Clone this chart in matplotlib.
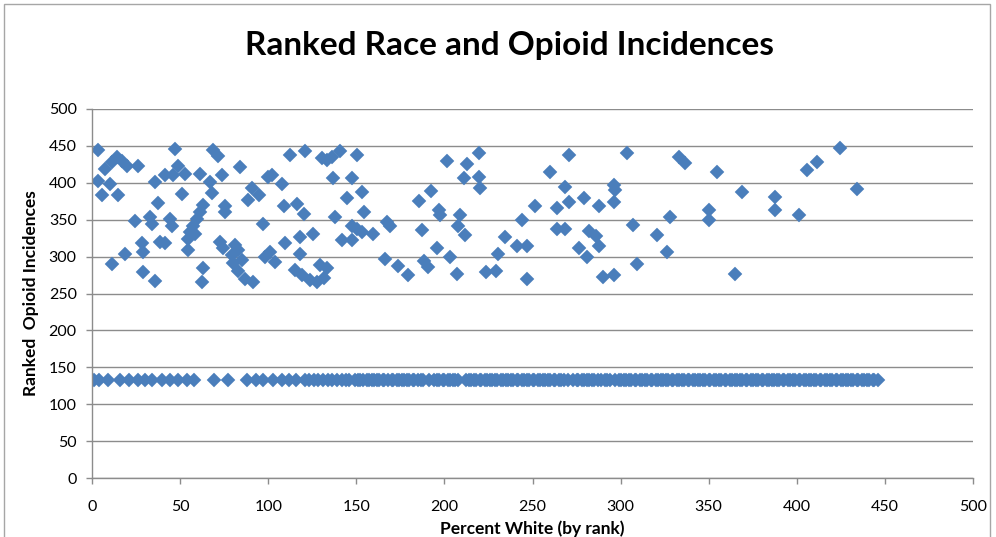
import numpy as np
import matplotlib
matplotlib.use("Agg")
import matplotlib.pyplot as plt
from matplotlib.patches import Rectangle

# ---- data ----
upper_x = [3.6, 47.1, 68.9, 71.5, 14.0, 16.8, 19.7, 11.2, 7.4, 26.3, 84.0, 49.0,
           41.5, 46.2, 52.8, 61.3, 73.6, 35.8, 67.0, 3.6, 10.2, 5.5, 14.9, 50.9,
           67.9, 90.7, 95.0, 88.8, 37.7, 63.2, 61.3, 75.5, 75.5, 24.4, 32.9, 33.9,
           44.3, 45.2, 59.4, 57.5, 55.7, 96.8, 28.2, 38.6, 41.5, 54.7, 58.5, 72.7,
           54.7, 18.7, 29.1, 74.6, 81.2, 83.1, 79.4, 85.1, 80.3, 98.2, 11.2, 29.1,
           63.2, 62.3, 35.8, 83.1, 86.9, 91.5,
           112.4, 121.0, 130.4, 133.2, 136.0, 140.8, 150.3, 100.1, 102.0, 107.7,
           137.0, 147.4, 153.1, 144.6, 108.7, 116.3, 120.1, 154.1, 185.6, 192.5,
           138.0, 147.4, 150.3, 153.1, 159.7, 167.3, 169.2, 187.2, 125.7, 118.1,
           109.6, 141.8, 147.4, 101.0, 103.9, 118.1, 166.3, 173.9, 188.5, 190.5,
           179.6, 115.4, 119.2, 123.9, 127.7, 131.5, 129.6, 133.2,
           201.4, 212.8, 219.4, 270.5, 210.9, 219.4, 220.3, 260.0, 268.6, 251.6,
           263.9, 270.5, 279.0, 288.0, 196.7, 197.6, 208.9, 208.0, 211.8, 243.9,
           263.9, 268.6, 281.8, 286.1, 234.4, 241.0, 246.7, 195.7, 276.4, 288.0,
           203.3, 230.6, 280.9, 207.0, 223.5, 229.1, 246.7, 289.9,
           303.6, 333.0, 336.8, 354.8, 296.1, 297.0, 296.1, 369.0, 350.0, 350.0,
           328.2, 306.8, 320.6, 326.3, 309.3, 296.1, 364.8,
           424.8, 411.6, 405.9, 434.3, 387.9, 387.9, 401.1]
upper_y = [445, 446, 444, 436, 435, 430, 423, 428, 419, 423, 422, 423,
           411, 410, 412, 412, 411, 401, 401, 403, 399, 383, 383, 385,
           386, 393, 383, 377, 372, 370, 361, 368, 361, 348, 353, 344,
           351, 342, 351, 342, 334, 344, 318, 320, 318, 324, 331, 320,
           309, 303, 306, 311, 316, 309, 302, 295, 291, 300, 290, 279,
           284, 265, 267, 281, 270, 266,
           438, 443, 433, 431, 435, 443, 437, 408, 410, 399,
           406, 406, 388, 380, 368, 371, 358, 361, 376, 389,
           353, 342, 338, 333, 330, 347, 341, 336, 330, 326,
           319, 323, 322, 306, 293, 304, 297, 287, 294, 286,
           275, 282, 275, 268, 266, 271, 288, 284,
           430, 425, 441, 438, 406, 408, 393, 415, 394, 369,
           366, 374, 379, 369, 363, 356, 356, 342, 329, 349,
           338, 338, 335, 328, 327, 315, 315, 311, 311, 314,
           299, 304, 299, 277, 279, 281, 270, 272,
           441, 435, 427, 415, 397, 390, 374, 387, 363, 350,
           354, 343, 329, 306, 290, 275, 277,
           447, 428, 417, 392, 381, 363, 356]

bottom_x = [1, 4, 9, 16, 21, 26, 30, 34, 40, 44, 49, 54, 58, 69, 77, 88, 93, 97,
            103, 108, 112, 116,
            121, 123, 126, 128, 131, 134, 136, 139, 142, 144, 146, 149, 151, 152,
            154, 156, 157, 159, 160, 162, 163, 165, 166, 168, 170, 171, 173, 174,
            176, 177, 179, 180, 182, 183, 185, 187, 188, 191, 194, 196, 197, 199,
            200, 202, 203, 205, 206, 208, 212, 214, 215, 217, 218, 220, 221, 223,
            224, 226, 227, 229, 230, 232, 233, 235, 236, 238, 239, 241, 242, 244,
            245, 247, 248, 250, 251, 253, 254, 256, 257, 259, 260, 262, 263, 265,
            266, 268, 270, 273, 275, 276, 278, 279, 281, 282, 284, 285, 287, 289,
            291, 292, 294, 297, 299, 300, 302, 303, 305, 306, 308, 309, 311, 312,
            314, 315, 317, 318, 320, 321, 323, 324, 326, 327, 329, 330, 332, 333,
            335, 336, 338, 339, 341, 342, 344, 345, 347, 348, 350, 351, 353, 354,
            356, 357, 359, 360, 362, 363, 365, 366, 368, 369, 371, 372, 374, 375,
            377, 378, 380, 381, 383, 384, 386, 387, 389, 390, 392, 393, 395, 396,
            398, 399, 401, 402, 404, 405, 407, 408, 410, 411, 413, 414, 416, 417,
            419, 420, 422, 423, 425, 426, 428, 429, 431, 432, 434, 435, 437, 438,
            440, 441, 443, 444, 446]
bottom_rank = 133  # tied rank shared by the bottom row

x_ticks = [0, 50, 100, 150, 200, 250, 300, 350, 400, 450, 500]
y_ticks = [0, 50, 100, 150, 200, 250, 300, 350, 400, 450, 500]

title = "Ranked Race and Opioid Incidences"
x_label = "Percent White (by rank)"
y_label = "Ranked  Opioid Incidences"

# ---- figure ----
W, H = 996, 537
fig = plt.figure(figsize=(W / 100, H / 100), dpi=100)
fig.patch.set_facecolor("white")

# outer chart border (bottom edge falls outside the picture)
fig.patches.append(Rectangle((4 / W, -2 / H), 986 / W, 535 / H, transform=fig.transFigure,
                             fill=False, edgecolor="#a6a6a6", linewidth=1.0))

left, right, top, bottom = 92, 973, 109, 478
ax = fig.add_axes([left / W, 1 - bottom / H, (right - left) / W, (bottom - top) / H])

font = ["Lato", "DejaVu Sans"]
marker_color = "#4a7ebb"

all_x = list(bottom_x) + list(upper_x)
all_y = list(np.full(len(bottom_x), bottom_rank)) + list(upper_y)
ax.plot(all_x, all_y, linestyle="none", marker="D", markersize=7.0,
        markerfacecolor=marker_color, markeredgecolor=marker_color, markeredgewidth=0.3)

ax.set_xlim(0, 500)
ax.set_ylim(0, 500)
ax.set_xticks(x_ticks)
ax.set_yticks(y_ticks)
ax.set_xticklabels([str(v) for v in x_ticks], fontfamily=font, fontsize=11.5)
ax.set_yticklabels([str(v) for v in y_ticks], fontfamily=font, fontsize=11.5)

ax.grid(axis="y", color="#8c8c8c", linewidth=1.0)
ax.set_axisbelow(True)
for s in ["top", "right"]:
    ax.spines[s].set_visible(False)
for s in ["left", "bottom"]:
    ax.spines[s].set_color("#8c8c8c")
    ax.spines[s].set_linewidth(1.0)
ax.tick_params(axis="both", direction="out", length=4, color="#8c8c8c", width=1.0,
               labelcolor="#000000")
ax.tick_params(axis="y", pad=7)
ax.tick_params(axis="x", pad=12)

fig.text(509 / W, 1 - 45 / H, title, ha="center", va="center",
         fontfamily=font, fontsize=24, fontweight="bold")
fig.text(532 / W, 1 - 529 / H, x_label, ha="center", va="center",
         fontfamily=font, fontsize=12.5, fontweight="bold")
fig.text(31 / W, 1 - 293 / H, y_label, ha="center", va="center", rotation=90,
         fontfamily=font, fontsize=12.5, fontweight="bold")

fig.savefig("out.png", dpi=100)
